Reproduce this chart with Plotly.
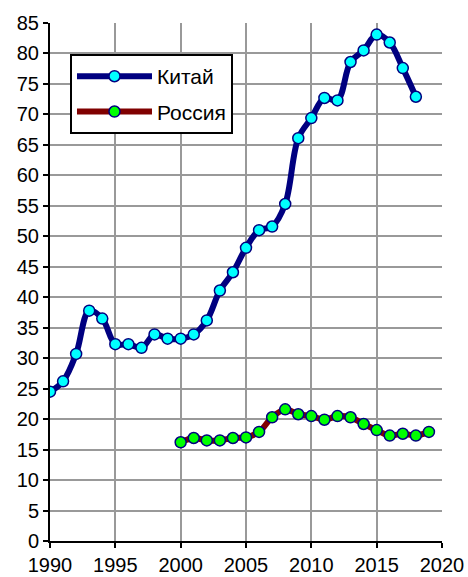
import plotly.graph_objects as go

years_china = list(range(1990, 2019))
china = [24.5, 26.2, 30.7, 37.8, 36.5, 32.3, 32.3, 31.7, 33.9, 33.2,
         33.2, 33.9, 36.2, 41.1, 44.1, 48.1, 51.0, 51.6, 55.3, 66.1,
         69.4, 72.7, 72.3, 78.6, 80.5, 83.1, 81.8, 77.6, 72.9]

years_russia = list(range(2000, 2020))
russia = [16.2, 16.9, 16.5, 16.5, 16.9, 17.0, 17.9, 20.3, 21.6, 20.8,
          20.5, 19.9, 20.5, 20.3, 19.2, 18.2, 17.3, 17.6, 17.3, 17.9]

x_ticks = [1990, 1995, 2000, 2005, 2010, 2015, 2020]
y_ticks = list(range(0, 90, 5))

fig = go.Figure()
fig.add_trace(go.Scatter(
    x=years_china, y=china, name="Китай", mode="lines+markers",
    legendgroup="china",
    line=dict(color="#000080", width=6, shape="spline", smoothing=1.0),
    marker=dict(size=11, color="#00FFFF", line=dict(color="#000080", width=1.5)),
))
fig.add_trace(go.Scatter(
    x=years_russia, y=russia, name="Россия", mode="lines+markers",
    legendgroup="russia",
    line=dict(color="#800000", width=6, shape="spline", smoothing=1.0),
    marker=dict(size=11, color="#00FF00", line=dict(color="#000080", width=1.5)),
))

fig.update_layout(
    width=468, height=577,
    margin=dict(l=50, r=26, t=23, b=36, autoexpand=False),
    plot_bgcolor="white", paper_bgcolor="white",
    font=dict(family="Liberation Sans, Arial, sans-serif", size=20, color="black"),
    showlegend=True,
    legend=dict(
        x=0.051, y=0.94, xanchor="left", yanchor="top",
        bgcolor="white", bordercolor="black", borderwidth=2,
        font=dict(size=21), itemwidth=75, entrywidth=176,
        tracegroupgap=5,
    ),
)
fig.update_xaxes(
    range=[1990, 2020], tickvals=x_ticks, ticktext=[str(v) for v in x_ticks],
    showgrid=True, gridcolor="#999999", gridwidth=2,
    showline=True, linecolor="black", linewidth=2,
    ticks="outside", ticklen=5, tickcolor="black", tickwidth=2,
    zeroline=False, automargin=False,
)
fig.update_yaxes(
    range=[0, 85], tickvals=y_ticks, ticktext=[str(v) for v in y_ticks],
    showgrid=True, gridcolor="#999999", gridwidth=2,
    showline=True, linecolor="black", linewidth=2,
    ticks="outside", ticklen=5, tickcolor="black", tickwidth=2,
    zeroline=False, automargin=False,
)
fig.write_html(
    "out.html",
    config={"displayModeBar": False},
    post_script="document.body.style.margin='0';document.body.style.padding='0';",
)
